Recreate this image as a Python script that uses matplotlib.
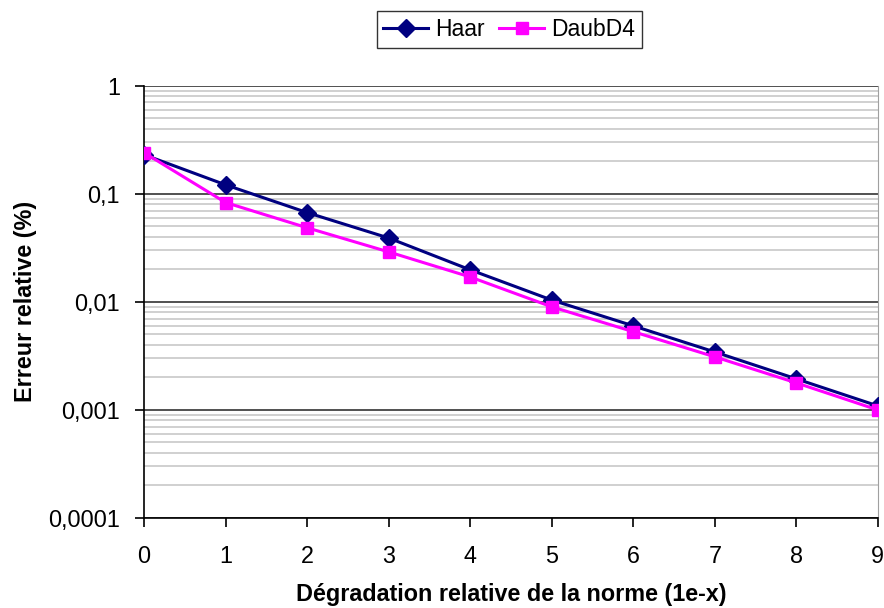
import matplotlib
matplotlib.use("Agg")
import matplotlib.pyplot as plt
from matplotlib.ticker import LogLocator, NullFormatter

plt.rcParams['font.family'] = ['Liberation Sans', 'DejaVu Sans']

x_vals = [0, 1, 2, 3, 4, 5, 6, 7, 8, 9]
haar = [0.23, 0.121, 0.067, 0.039, 0.0198, 0.0104, 0.0060, 0.00344, 0.00194, 0.00109]
daub = [0.24, 0.083, 0.0485, 0.029, 0.017, 0.0090, 0.0053, 0.0031, 0.00178, 0.00100]
y_ticks = [0.0001, 0.001, 0.01, 0.1, 1]
y_labels = ["0,0001", "0,001", "0,01", "0,1", "1"]

fig = plt.figure(figsize=(8.84, 6.08), dpi=100)
ax = fig.add_axes([0.163, 0.148, 0.830, 0.711])

ax.plot(x_vals, haar, color='#000080', lw=2.2, marker='D', markersize=9, label='Haar', zorder=3)
ax.plot(x_vals, daub, color='#FF00FF', lw=2.2, marker='s', markersize=8.5, label='DaubD4', zorder=3)

ax.set_yscale('log')
ax.set_ylim(0.0001, 1)
ax.set_xlim(0, 9)
ax.set_yticks(y_ticks)
ax.set_yticklabels(y_labels)
ax.yaxis.set_minor_locator(LogLocator(base=10, subs=range(2, 10), numticks=20))
ax.yaxis.set_minor_formatter(NullFormatter())
ax.set_xticks(x_vals)

ax.grid(True, which='major', axis='y', color='#333333', lw=1.2)
ax.grid(True, which='minor', axis='y', color='#c8c8c8', lw=1.2)
ax.set_axisbelow(True)

ax.tick_params(axis='both', which='major', labelsize=16.8, direction='out', length=6.5, width=1.2, color='black')
ax.tick_params(axis='y', which='major', pad=11)
ax.tick_params(axis='x', which='major', pad=13)
ax.tick_params(axis='y', which='minor', length=0)
ax.spines['top'].set_visible(False)
ax.spines['right'].set_color('#a0a0a0')
ax.spines['left'].set_linewidth(1.2)
ax.spines['bottom'].set_linewidth(1.2)

ax.set_xlabel('Dégradation relative de la norme (1e-x)', fontsize=16.8, fontweight='bold', labelpad=11)
ax.set_ylabel('Erreur relative (%)', fontsize=16.8, fontweight='bold', labelpad=8)

leg = fig.legend(loc='center', bbox_to_anchor=(0.576, 0.951), ncol=2, fontsize=16.5,
                 frameon=True, fancybox=False, edgecolor='black', handlelength=1.95,
                 columnspacing=0.63, handletextpad=0.31, borderpad=0.3, borderaxespad=0)
leg.get_frame().set_linewidth(1.0)

fig.savefig('out.png', dpi=100)
